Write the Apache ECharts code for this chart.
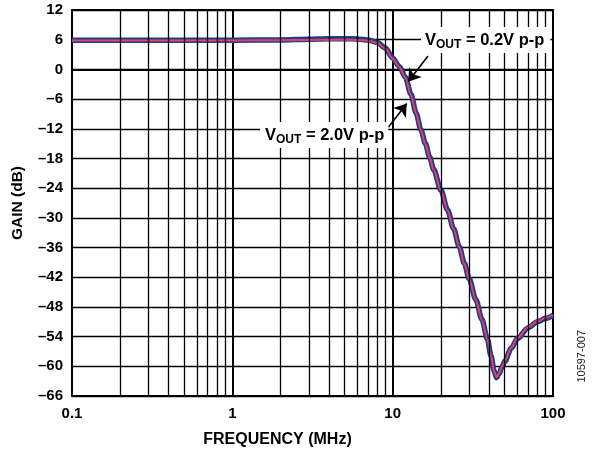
<!DOCTYPE html>
<html>
<head>
<meta charset="utf-8">
<script src="https://cdn.jsdelivr.net/npm/echarts@6/dist/echarts.min.js"></script>
<style>
html,body{margin:0;padding:0;background:#fff;}
#chart{width:594px;height:453px;}
</style>
</head>
<body>
<div id="chart"></div>
<script>
// ---- data ----
var freqMHz = [0.1, 0.2, 0.5, 1, 2, 3, 4, 5, 6, 7, 8, 9, 10, 11, 12, 13, 14, 15, 16, 17, 18, 20, 22, 24, 26, 28, 30, 33, 36, 39, 41, 43, 44.5, 46, 48, 50, 55, 60, 70, 80, 90, 100];
var gain2V = [5.9, 5.9, 5.9, 5.9, 5.95, 6.1, 6.2, 6.2, 6.15, 5.95, 5.5, 4.3, 2.3, 0.6, -1.6, -5.0, -8.8, -12.2, -15.0, -17.7, -20.2, -24.4, -28.4, -32.2, -35.8, -39.2, -42.3, -46.5, -50.5, -54.5, -57.8, -61.0, -62.3, -61.6, -60.2, -59.0, -56.3, -54.4, -52.2, -51.0, -50.3, -49.7];
var gain02V = [5.85, 5.85, 5.85, 5.85, 5.9, 5.95, 6.0, 6.0, 5.95, 5.8, 5.4, 4.2, 2.2, 0.5, -1.7, -5.1, -8.9, -12.3, -15.1, -17.8, -20.3, -24.5, -28.5, -32.3, -35.9, -39.3, -42.4, -46.6, -50.6, -54.6, -57.9, -61.1, -62.2, -61.5, -60.1, -58.9, -56.2, -54.3, -52.1, -50.9, -50.2, -49.6];
var decades = [0.1, 1, 10];
var minorMultipliers = [2, 3, 4, 5, 6, 7, 8, 9];
var yTicks = {min: -66, max: 12, step: 6};
var xRange = {min: 0.1, max: 100};
var arrow02V = [[16.6, 2.7], [12.5, -2.5]];
var arrow20V = [[9.4, -11.7], [12.25, -6.9]];

var minorLines = [];
decades.forEach(function (d) {
  minorMultipliers.forEach(function (m) { minorLines.push({xAxis: +(d * m).toPrecision(3)}); });
});

function pairs(xs, ys) { return xs.map(function (x, i) { return [x, ys[i]]; }); }

var FONT = "'Liberation Sans', Arial, sans-serif";
var chart = echarts.init(document.getElementById('chart'), null, {renderer: 'canvas'});

var richLabel = {
  m: {fontFamily: FONT, fontWeight: 'bold', fontSize: 16.5, fill: '#000'},
  s: {fontFamily: FONT, fontWeight: 'bold', fontSize: 12, fill: '#000', padding: [9, 0, 0, 0]}
};

var option = {
  animation: false,
  backgroundColor: '#fff',
  grid: {left: 72, right: 41, top: 10, bottom: 57, show: true, borderColor: '#000', borderWidth: 2, backgroundColor: 'transparent'},
  xAxis: {
    type: 'log', logBase: 10, min: xRange.min, max: xRange.max,
    name: 'FREQUENCY (MHz)', nameLocation: 'middle', nameGap: 36,
    nameTextStyle: {fontFamily: FONT, fontWeight: 'bold', fontSize: 16, color: '#000', padding: [0, 70, 0, 0]},
    axisLine: {show: true, lineStyle: {color: '#000', width: 2}},
    axisTick: {show: false},
    axisLabel: {fontFamily: FONT, fontWeight: 'bold', fontSize: 15, color: '#000', margin: 10,
      formatter: function (v) { return String(+v.toPrecision(3)); }},
    splitLine: {show: true, lineStyle: {color: '#000', width: 2}}
  },
  yAxis: {
    type: 'value', min: yTicks.min, max: yTicks.max, interval: yTicks.step,
    name: 'GAIN (dB)', nameLocation: 'middle', nameGap: 46,
    nameTextStyle: {fontFamily: FONT, fontWeight: 'bold', fontSize: 15.5, color: '#000'},
    axisLine: {show: true, lineStyle: {color: '#000', width: 2}},
    axisTick: {show: false},
    axisLabel: {fontFamily: FONT, fontWeight: 'bold', fontSize: 15, color: '#000', margin: 9,
      formatter: function (v) { return v < 0 ? '\u2013' + Math.abs(v) : String(v); }},
    splitLine: {show: true, lineStyle: {color: '#000', width: 1.4}}
  },
  graphic: [
    {type: 'text', left: 421, top: 27, z: 50,
      style: {text: '{m|V}{s|OUT}{m| = 0.2V p-p}', backgroundColor: '#fff', padding: [3, 6, 2, 4],
        fill: '#000', font: 'bold 16.5px ' + FONT, rich: richLabel}},
    {type: 'text', left: 260, top: 122, z: 50,
      style: {text: '{m|V}{s|OUT}{m| = 2.0V p-p}', backgroundColor: '#fff', padding: [3, 4, 2, 5],
        fill: '#000', font: 'bold 16.5px ' + FONT, rich: richLabel}},
    {type: 'text', left: 576, top: 330, rotation: Math.PI / 2, z: 50,
      style: {text: '10597-007', fill: '#222', font: '11px ' + FONT}}
  ],
  series: [
    {type: 'line', data: [], z: 1, silent: true,
      markLine: {silent: true, symbol: ['none', 'none'], animation: false, label: {show: false},
        lineStyle: {color: '#000', width: 1.3, type: 'solid'}, emphasis: {disabled: true},
        data: minorLines}},
    {name: 'VOUT = 2.0V p-p', type: 'line', data: pairs(freqMHz, gain2V), z: 3,
      showSymbol: false, smooth: 0.3, smoothMonotone: 'x', lineStyle: {color: '#1f3d8c', width: 5.5}},
    {name: 'VOUT = 0.2V p-p', type: 'line', data: pairs(freqMHz, gain02V), z: 4,
      showSymbol: false, smooth: 0.3, smoothMonotone: 'x', lineStyle: {color: '#e8405f', width: 2}},
    {type: 'line', data: [], z: 60, silent: true,
      markLine: {silent: true, symbol: ['none', 'arrow'], symbolSize: 12, animation: false, label: {show: false},
        lineStyle: {color: '#000', width: 1.6, type: 'solid'}, emphasis: {disabled: true},
        data: [
          [{coord: arrow02V[0]}, {coord: arrow02V[1]}],
          [{coord: arrow20V[0]}, {coord: arrow20V[1]}]
        ]}}
  ]
};
chart.setOption(option);
</script>
</body>
</html>
